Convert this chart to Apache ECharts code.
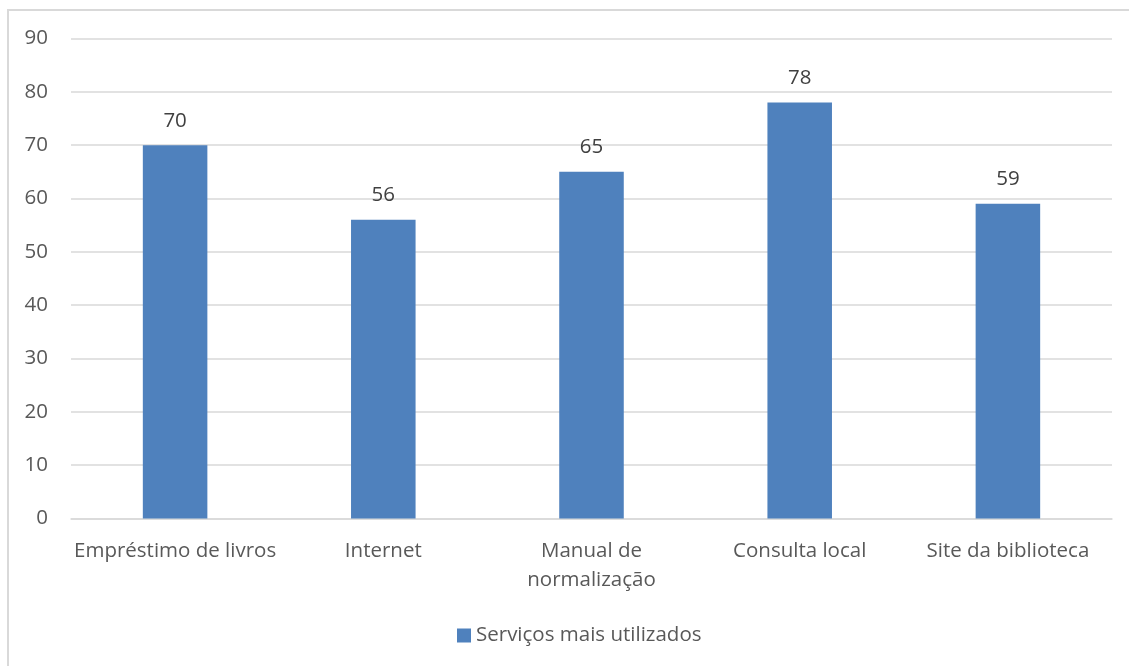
<!DOCTYPE html>
<html>
<head>
<meta charset="utf-8">
<script src="https://cdn.jsdelivr.net/npm/echarts@6/dist/echarts.min.js"></script>
<style>
html,body{margin:0;padding:0;background:#fff;}
#frame{position:absolute;left:7px;top:9px;width:1140px;height:680px;border:2px solid #d9d9d9;box-sizing:border-box;}
#chart{position:absolute;left:0;top:0;width:1129px;height:666px;}
</style>
</head>
<body>
<div id="frame"></div>
<div id="chart"></div>
<script>
// Services used, number of responses per service
const categories = ['Empréstimo de livros', 'Internet', 'Manual de\nnormalização', 'Consulta local', 'Site da biblioteca'];
const values = [70, 56, 65, 78, 59];
const seriesName = 'Serviços mais utilizados';

const font = 'Open Sans';
const textColor = '#595959';
const fontSize = 20.5;

const chart = echarts.init(document.getElementById('chart'));
chart.setOption({
  animation: false,
  textStyle: { fontFamily: font },
  grid: { left: 71, right: 17, top: 38.5, bottom: 147.5, containLabel: false },
  legend: {
    top: 620, left: 452,
    itemWidth: 14, itemHeight: 14, itemGap: 5,
    icon: 'rect',
    textStyle: { fontFamily: font, fontSize: fontSize, color: textColor },
    data: [seriesName]
  },
  xAxis: {
    type: 'category',
    data: categories,
    axisLine: { lineStyle: { color: '#d9d9d9', width: 1.5 } },
    axisTick: { show: false },
    axisLabel: { fontFamily: font, fontSize: fontSize, color: textColor, margin: 18, lineHeight: 29, interval: 0 }
  },
  yAxis: {
    type: 'value', min: 0, max: 90, interval: 10,
    axisLine: { show: false }, axisTick: { show: false },
    splitLine: { lineStyle: { color: '#d9d9d9', width: 1.5 } },
    axisLabel: { fontFamily: font, fontSize: fontSize, color: textColor, margin: 23 }
  },
  series: [{
    name: seriesName,
    type: 'bar',
    data: values,
    barWidth: '31%',
    itemStyle: { color: '#4f81bd' },
    label: { show: true, position: 'top', distance: 14, fontFamily: font, fontSize: fontSize, color: '#404040' }
  }]
});
</script>
</body>
</html>
